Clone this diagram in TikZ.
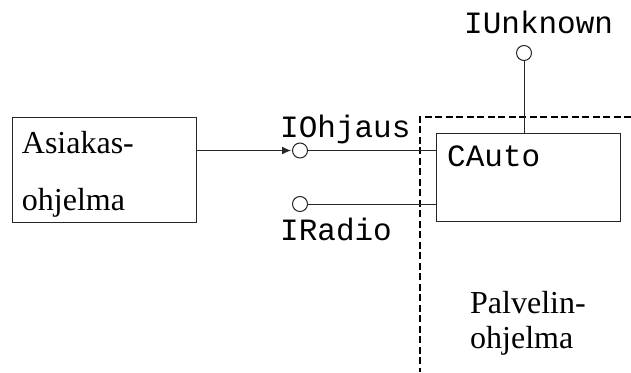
\documentclass[tikz,border=0pt]{standalone}
\usepackage{fontspec}
\setmainfont{Liberation Serif}
\setmonofont{Liberation Mono}
\usetikzlibrary{arrows.meta}
\begin{document}
\begin{tikzpicture}[x=1pt,y=-1pt,
  box/.style={draw=black!85, line width=1pt, inner sep=0pt, anchor=north west},
  lolli/.style={circle, draw=black!85, line width=1pt, minimum size=15pt, inner sep=0pt},
  wire/.style={draw=black!85, line width=1pt},
  serif/.style={font=\fontsize{32}{32}\selectfont, inner sep=0pt, anchor=base west},
  mono/.style={font=\fontsize{31}{31}\selectfont\ttfamily, inner sep=0pt, anchor=base west},
  border/.style={draw=black, line width=2pt, dash pattern=on 7pt off 3.5pt}]
\useasboundingbox (0,0) rectangle (631,372);

% server boundary
\coordinate (bnd-r) at (631,117.3);
\coordinate (bnd-c) at (419.5,117.3);
\coordinate (bnd-b) at (419.5,372);
\draw[border] (bnd-r) -- (bnd-c) -- (bnd-b);

% components
\node[box, minimum width=184pt, minimum height=104.4pt] (client) at (11.7,117.3) {};
\node[box, minimum width=184.3pt, minimum height=87.7pt] (cauto) at (435.7,133.3) {};

% interfaces
\node[lolli] (iunk) at (524,53) {};
\node[lolli] (iohj) at (300,150.5) {};
\node[lolli] (irad) at (300,204) {};

% connections
\draw[wire] (iunk.south) -- (iunk.south |- cauto.north);
\draw[wire] (iohj.east) -- (iohj.east -| cauto.west);
\draw[wire] (irad.east) -- (irad.east -| cauto.west);
\draw[wire, -{Latex[length=9pt,width=8pt]}, shorten >=9pt] (client.east |- iohj) -- (iohj.center);

% labels
\node[serif] (t-as1) at (21.7,153) {Asiakas-};
\node[serif] (t-as2) at (21.7,210) {ohjelma};
\node[serif] (t-pa1) at (470,313) {Palvelin-};
\node[serif] (t-pa2) at (470,348) {ohjelma};
\node[mono] (l-unk) at (464,33) {IUnknown};
\node[mono] (l-ohj) at (280,137) {IOhjaus};
\node[mono] (l-rad) at (280,240) {IRadio};
\node[mono] (l-cau) at (447,166.7) {CAuto};
\end{tikzpicture}
\end{document}
